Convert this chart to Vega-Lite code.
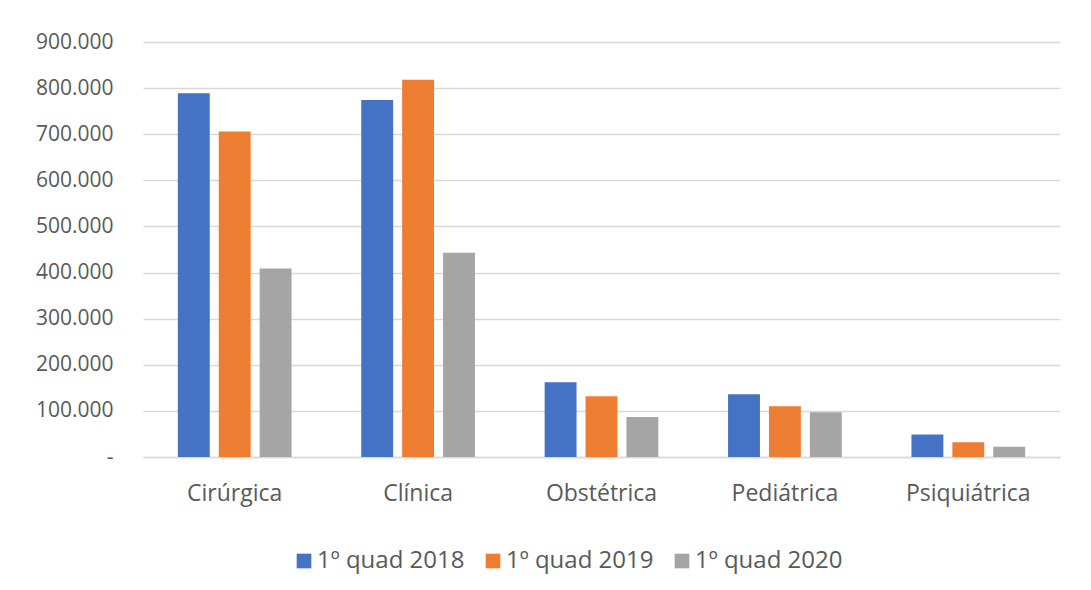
{
  "$schema": "https://vega.github.io/schema/vega-lite/v6.json",
  "autosize": {"type": "none"},
  "padding": {"left": 143, "top": 42, "right": 31, "bottom": 133},
  "width": 917,
  "height": 415,
  "background": "white",
  "data": {
    "values": [
      {"categoria": "Cirúrgica", "periodo": "1º quad 2018", "valor": 789000},
      {"categoria": "Cirúrgica", "periodo": "1º quad 2019", "valor": 706000},
      {"categoria": "Cirúrgica", "periodo": "1º quad 2020", "valor": 409000},
      {"categoria": "Clínica", "periodo": "1º quad 2018", "valor": 774000},
      {"categoria": "Clínica", "periodo": "1º quad 2019", "valor": 818000},
      {"categoria": "Clínica", "periodo": "1º quad 2020", "valor": 443000},
      {"categoria": "Obstétrica", "periodo": "1º quad 2018", "valor": 162000},
      {"categoria": "Obstétrica", "periodo": "1º quad 2019", "valor": 132000},
      {"categoria": "Obstétrica", "periodo": "1º quad 2020", "valor": 87000},
      {"categoria": "Pediátrica", "periodo": "1º quad 2018", "valor": 136000},
      {"categoria": "Pediátrica", "periodo": "1º quad 2019", "valor": 110000},
      {"categoria": "Pediátrica", "periodo": "1º quad 2020", "valor": 97000},
      {"categoria": "Psiquiátrica", "periodo": "1º quad 2018", "valor": 49000},
      {"categoria": "Psiquiátrica", "periodo": "1º quad 2019", "valor": 32000},
      {"categoria": "Psiquiátrica", "periodo": "1º quad 2020", "valor": 22000}
    ]
  },
  "mark": {"type": "bar"},
  "encoding": {
    "x": {
      "field": "categoria",
      "type": "nominal",
      "sort": null,
      "scale": {"paddingInner": 0.38, "paddingOuter": 0.19},
      "axis": {
        "title": null,
        "labelAngle": 0,
        "labelFont": "Open Sans",
        "labelFontSize": 23,
        "labelColor": "#595959",
        "labelPadding": 25,
        "ticks": false,
        "domain": true,
        "domainColor": "#D9D9D9",
        "domainWidth": 1.5
      }
    },
    "xOffset": {
      "field": "periodo",
      "type": "nominal",
      "scale": {"paddingInner": 0.22}
    },
    "y": {
      "field": "valor",
      "type": "quantitative",
      "scale": {"domain": [0, 900000], "nice": false},
      "axis": {
        "title": null,
        "values": [0, 100000, 200000, 300000, 400000, 500000, 600000, 700000, 800000, 900000],
        "labelExpr": "datum.value == 0 ? '-' : replace(format(datum.value, ',d'), /,/g, '.')",
        "labelFont": "Open Sans",
        "labelFontSize": 21,
        "labelColor": "#595959",
        "labelPadding": 30,
        "ticks": false,
        "domain": false,
        "grid": true,
        "gridColor": "#D9D9D9",
        "gridWidth": 1.5
      }
    },
    "color": {
      "field": "periodo",
      "type": "nominal",
      "scale": {
        "domain": ["1º quad 2018", "1º quad 2019", "1º quad 2020"],
        "range": ["#4472C4", "#ED7D31", "#A5A5A5"]
      },
      "legend": {
        "title": null,
        "orient": "none",
        "direction": "horizontal",
        "legendX": 149,
        "legendY": 507,
        "symbolType": "square",
        "symbolSize": 215,
        "symbolStrokeWidth": 0,
        "labelFont": "Open Sans",
        "labelFontSize": 24,
        "labelColor": "#595959",
        "labelOffset": 1,
        "columnPadding": 16
      }
    }
  },
  "config": {
    "view": {"stroke": null}
  }
}
